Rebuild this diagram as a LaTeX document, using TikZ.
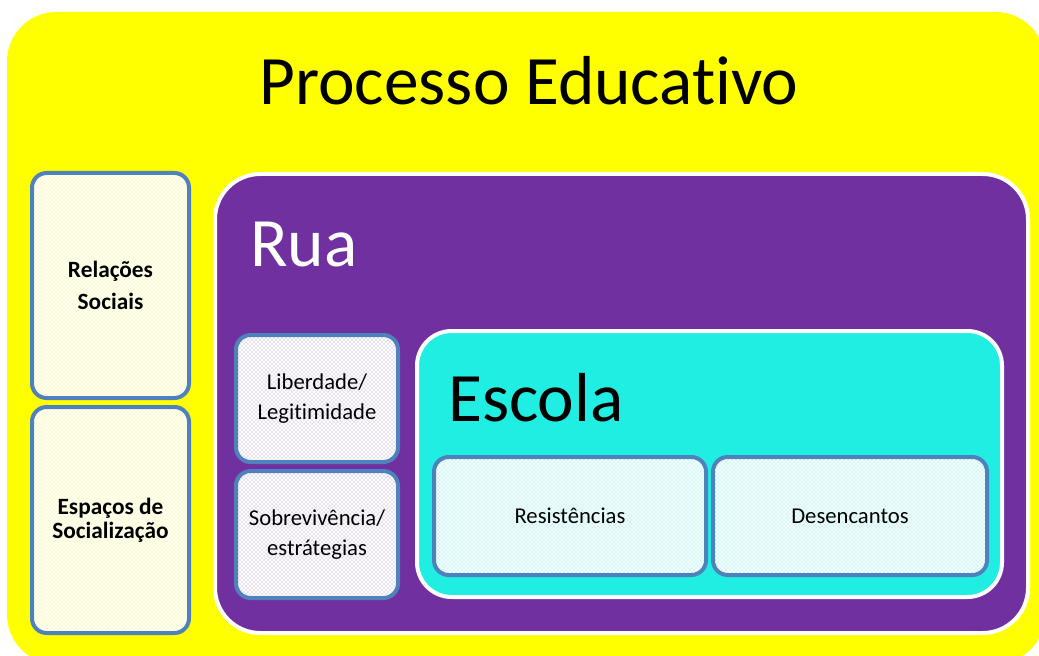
\documentclass[tikz,border=0pt]{standalone}
\usepackage{fontspec}
\setmainfont{Carlito}[Ligatures=NoCommon]
\usetikzlibrary{patterns}

\definecolor{amarelo}{RGB}{255,255,0}
\definecolor{roxo}{RGB}{112,48,160}
\definecolor{ciano}{RGB}{33,238,226}
\definecolor{azul}{RGB}{79,129,189}

\begin{document}
\begin{tikzpicture}[x=0.75pt, y=-0.75pt,
  caixa/.style={draw=azul, line width=3pt, rounded corners=11pt, preaction={fill=white},
    align=center, text=black, inner sep=0pt},
  caixaesq/.style={caixa, pattern=crosshatch dots, pattern color=amarelo!85!white, minimum width=117.75pt,
    font=\fontsize{17.5}{24}\selectfont\bfseries},
  caixarua/.style={caixa, pattern=crosshatch dots, pattern color=roxo!60!white, minimum width=121.5pt,
    minimum height=95.25pt, font=\fontsize{17}{22.5}\selectfont},
  caixaescola/.style={caixa, pattern=crosshatch dots, pattern color=ciano, minimum height=88.5pt,
    font=\fontsize{17}{22}\selectfont},
  titulo/.style={font=\fontsize{52}{60}\selectfont, inner sep=0pt}]
	\useasboundingbox (0,0) rectangle (1039,656);

	% Fundo amarelo: Processo Educativo
	\fill[amarelo, rounded corners=37pt] (7,12) rectangle (1045,664);
	\node[titulo, anchor=base] (processo) at (529,105) {Processo Educativo};

	% Caixas da esquerda
	\node[caixaesq, minimum height=168.75pt] (relacoes) at (110.5,285.5) {Relações\\Sociais};
	\node[caixaesq, minimum height=169.5pt, font=\fontsize{17.5}{18}\selectfont\bfseries] (espacos) at (110.5,520) {Espaços de\\Socialização};

	% Rua
	\draw[fill=roxo, draw=white, line width=3pt, rounded corners=34pt] (215,174) rectangle (1028,633);
	\node[titulo, text=white, anchor=base west] (rua) at (250,267) {Rua};
	\node[caixarua] (liberdade) at (317,398.5) {Liberdade/\\Legitimidade};
	\node[caixarua] (sobrevivencia) at (317,534.5) {Sobrevivência/\\estrátegias};

	% Escola
	\draw[fill=ciano, draw=white, line width=3pt, rounded corners=26pt] (417,331) rectangle (1002,597);
	\node[titulo, anchor=base west] (escola) at (448,421) {Escola};
	\node[caixaescola, minimum width=204pt] (resistencias) at (570,516) {Resistências};
	\node[caixaescola, minimum width=205.5pt] (desencantos) at (850,516) {Desencantos};
\end{tikzpicture}
\end{document}
